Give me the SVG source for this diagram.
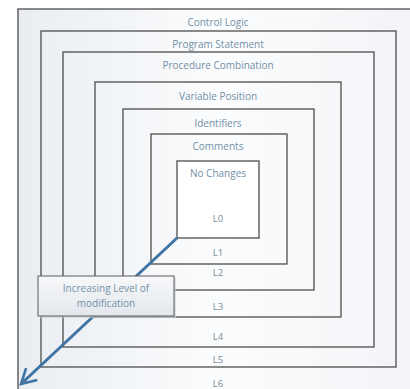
<svg xmlns="http://www.w3.org/2000/svg" width="410" height="389" viewBox="0 0 410 389">
  <defs>
    <linearGradient id="bg" x1="0" y1="0" x2="1" y2="0">
      <stop offset="0" stop-color="#e9edf2"/>
      <stop offset="0.5" stop-color="#fbfcfd"/>
      <stop offset="1" stop-color="#f2f4f7"/>
    </linearGradient>
    <linearGradient id="boxg" x1="0" y1="0" x2="0" y2="1">
      <stop offset="0" stop-color="#f7f8fa"/>
      <stop offset="1" stop-color="#e3e7ec"/>
    </linearGradient>
    <marker id="arr" viewBox="0 0 12 12" refX="10" refY="6" markerWidth="6.5" markerHeight="6.5" orient="auto" markerUnits="strokeWidth">
      <path d="M1,1 L10,6 L1,11" fill="none" stroke="#3f74a3" stroke-width="1.6"/>
    </marker>
  </defs>
  <style>
    .lvl { fill: none; stroke: #4d4d4d; stroke-width: 1.3; }
    .t { font-family: "Open Sans", "Liberation Sans", Arial, sans-serif; font-size: 10px; fill: #7290a6; text-anchor: middle; }
    .l { font-family: "Open Sans", "Liberation Sans", Arial, sans-serif; font-size: 9.5px; fill: #7d8a96; text-anchor: middle; }
  </style>
  <rect x="0" y="0" width="410" height="389" fill="#ffffff"/>
  <rect x="18" y="9" width="400" height="390" fill="url(#bg)"/>
  <g id="L6">
    <rect class="lvl" x="18" y="9" width="400" height="390"/>
    <text class="t" x="218" y="26">Control Logic</text>
    <text class="l" x="218" y="387">L6</text>
  </g>
  <g id="L5">
    <rect class="lvl" x="41" y="31" width="355" height="336"/>
    <text class="t" x="218" y="48">Program Statement</text>
    <text class="l" x="218" y="363">L5</text>
  </g>
  <g id="L4">
    <rect class="lvl" x="63" y="52" width="311" height="295"/>
    <text class="t" x="218" y="69">Procedure Combination</text>
    <text class="l" x="218" y="340">L4</text>
  </g>
  <g id="L3">
    <rect class="lvl" x="95" y="82" width="246" height="235"/>
    <text class="t" x="218" y="100">Variable Position</text>
    <text class="l" x="218" y="310">L3</text>
  </g>
  <g id="L2">
    <rect class="lvl" x="123" y="109" width="191" height="181"/>
    <text class="t" x="218" y="127">Identifiers</text>
    <text class="l" x="218" y="276">L2</text>
  </g>
  <g id="L1">
    <rect class="lvl" x="151" y="134" width="136" height="130"/>
    <text class="t" x="218" y="150">Comments</text>
    <text class="l" x="218" y="256">L1</text>
  </g>
  <g id="L0">
    <rect x="177" y="161" width="82" height="77" fill="#ffffff" stroke="#4d4d4d" stroke-width="1.3"/>
    <text class="t" x="218" y="177">No Changes</text>
    <text class="l" x="218" y="222">L0</text>
  </g>
  <g id="connectors">
    <line x1="177" y1="238" x2="21" y2="384" stroke="#3f74a3" stroke-width="3" marker-end="url(#arr)"/>
  </g>
  <g id="label">
    <rect x="40" y="278" width="136" height="40" fill="#c9ced4" opacity="0.6"/>
    <rect x="38" y="276" width="136" height="40" fill="url(#boxg)" stroke="#5a5a5a" stroke-width="1"/>
    <text class="t" x="106" y="292">Increasing Level of</text>
    <text class="t" x="106" y="307">modification</text>
  </g>
</svg>
